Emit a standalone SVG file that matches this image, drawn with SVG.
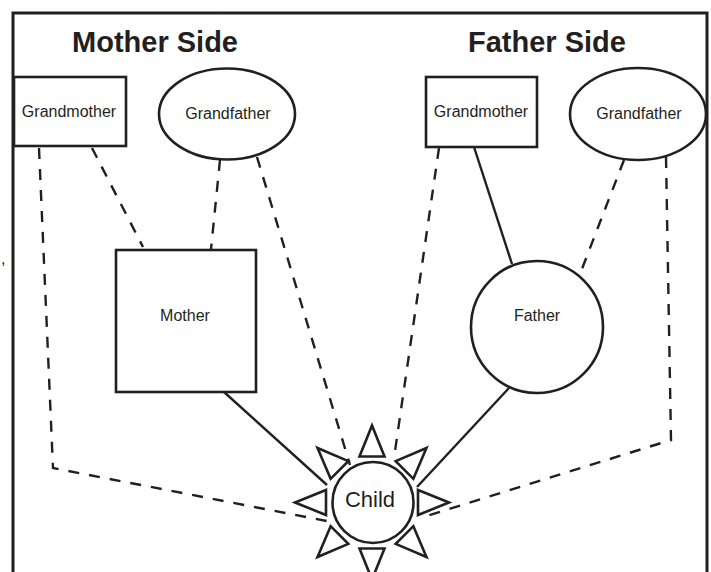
<svg xmlns="http://www.w3.org/2000/svg" width="711" height="572" viewBox="0 0 711 572">
<style>
.node{fill:#fff;stroke:#231f20;stroke-width:2.6}
.lbl{font-family:"Liberation Sans",Arial,sans-serif;font-size:16px;fill:#231f20;text-anchor:middle}
.title{font-family:"Liberation Sans",Arial,sans-serif;font-size:29px;font-weight:bold;fill:#231f20;text-anchor:middle}
.solid{fill:none;stroke:#231f20;stroke-width:2.4}
.dash{fill:none;stroke:#231f20;stroke-width:2.4;stroke-dasharray:11 10}
.ray{fill:#fff;stroke:#231f20;stroke-width:2.6;stroke-linejoin:miter}
</style>
<defs>
<polygon id="ray" points="0,-77 -12.5,-46 12.5,-46"/>
</defs>
<rect width="711" height="572" fill="#fff"/>
<path d="M13,572 V13 H707 V572" fill="none" stroke="#231f20" stroke-width="3"/>
<text x="1" y="264" font-family="Liberation Sans,Arial,sans-serif" font-size="16" fill="#231f20">,</text>
<text class="title" x="155" y="52">Mother Side</text>
<text class="title" x="547" y="52">Father Side</text>
<g id="connectors">
<path class="dash" d="M39,148 L53,468 L332,522"/>
<path class="dash" d="M92,148 L143,247"/>
<path class="dash" d="M220,160 L211,249"/>
<path class="dash" d="M257,157 L350,465"/>
<path class="dash" d="M439,148 L394,458"/>
<path class="dash" d="M624,160 L580,274"/>
<path class="dash" d="M666,157 L671,440 L420,518"/>
<path class="solid" d="M224,392 L327,485"/>
<path class="solid" d="M509,388 L417,487"/>
<path class="solid" d="M474,147 L512,264"/>
</g>
<g id="m-grandmother">
<rect class="node" x="14" y="77" width="112" height="69"/>
<text class="lbl" x="69" y="117">Grandmother</text>
</g>
<g id="m-grandfather">
<ellipse class="node" cx="227" cy="114" rx="68" ry="45.5"/>
<text class="lbl" x="228" y="119">Grandfather</text>
</g>
<g id="f-grandmother">
<rect class="node" x="426" y="77" width="111" height="70"/>
<text class="lbl" x="481" y="117">Grandmother</text>
</g>
<g id="f-grandfather">
<ellipse class="node" cx="638" cy="114" rx="68" ry="46"/>
<text class="lbl" x="639" y="119">Grandfather</text>
</g>
<g id="mother">
<rect class="node" x="116" y="250" width="140" height="142"/>
<text class="lbl" x="185" y="321">Mother</text>
</g>
<g id="father">
<circle class="node" cx="537" cy="327" r="66"/>
<text class="lbl" x="537" y="321">Father</text>
</g>
<g id="child">
<g transform="translate(372,502.5)">
<use href="#ray" class="ray" transform="rotate(0)"/>
<use href="#ray" class="ray" transform="rotate(45)"/>
<use href="#ray" class="ray" transform="rotate(90)"/>
<use href="#ray" class="ray" transform="rotate(135)"/>
<use href="#ray" class="ray" transform="rotate(180)"/>
<use href="#ray" class="ray" transform="rotate(225)"/>
<use href="#ray" class="ray" transform="rotate(270)"/>
<use href="#ray" class="ray" transform="rotate(315)"/>
</g>
<circle class="node" cx="373" cy="502.5" r="40.5"/>
<text class="lbl" x="370" y="507" style="font-size:22px">Child</text>
</g>
</svg>
